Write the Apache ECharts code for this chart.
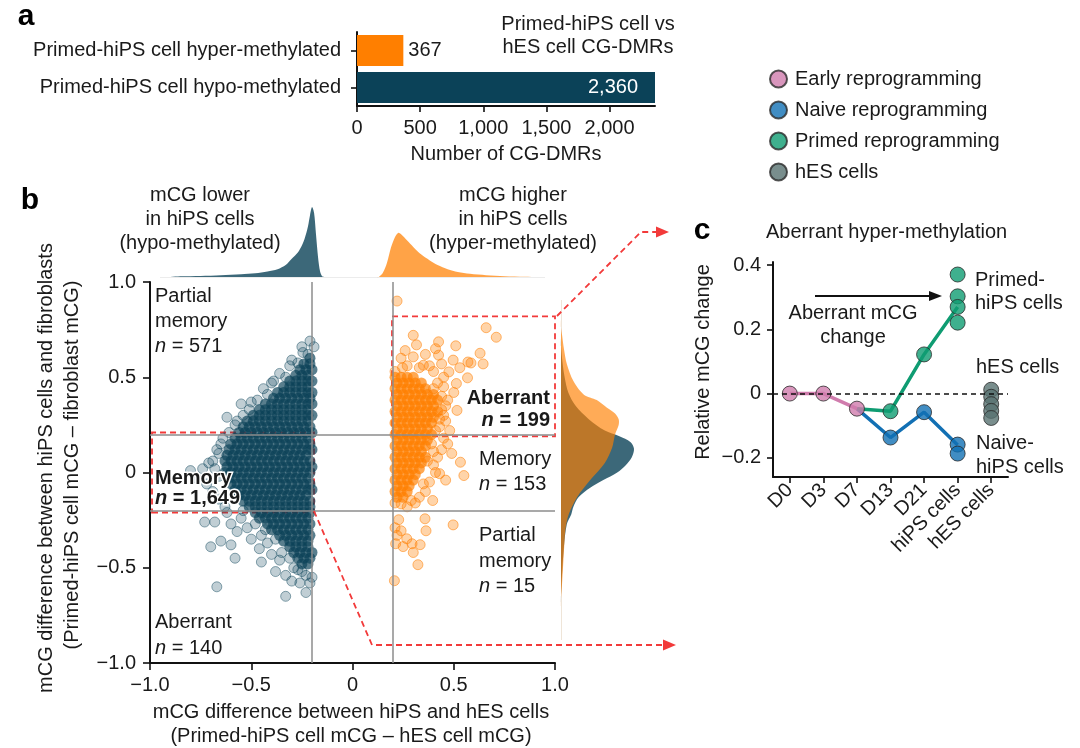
<!DOCTYPE html>
<html><head><meta charset="utf-8">
<script src="https://cdn.jsdelivr.net/npm/echarts@6/dist/echarts.min.js"></script>
<style>html,body{margin:0;padding:0;background:#fff}#c{width:1080px;height:748px}</style>
</head><body><div id="c"></div>
<script>
// ---------- Panel a ----------
const dmrCats = ['Primed-hiPS cell hyper-methylated', 'Primed-hiPS cell hypo-methylated'];
const dmrCounts = [367, 2360];
const dmrTicks = [0, 500, 1000, 1500, 2000];

// ---------- Panel b : scatter (x = hiPS - hES, y = hiPS - fibroblast) ----------
const scatterTicks = [-1, -0.5, 0, 0.5, 1];
// dense core of hypo-methylated DMRs, rows [y, [x...]]
const hypoCoreRows = [
 [0.60, [-0.21]],
 [0.57, [-0.24,-0.21]],
 [0.54, [-0.26,-0.23,-0.20]],
 [0.51, [-0.28,-0.25,-0.22]],
 [0.48, [-0.31,-0.28,-0.25,-0.22,-0.20]],
 [0.45, [-0.34,-0.31,-0.28,-0.25,-0.22]],
 [0.42, [-0.37,-0.34,-0.31,-0.28,-0.25,-0.22,-0.20]],
 [0.39, [-0.39,-0.36,-0.33,-0.30,-0.27,-0.24,-0.21]],
 [0.36, [-0.43,-0.40,-0.37,-0.34,-0.31,-0.28,-0.25,-0.22,-0.20]],
 [0.33, [-0.46,-0.43,-0.40,-0.37,-0.34,-0.31,-0.28,-0.25,-0.22]],
 [0.30, [-0.49,-0.46,-0.43,-0.40,-0.37,-0.34,-0.31,-0.28,-0.25,-0.22,-0.20]],
 [0.27, [-0.52,-0.49,-0.46,-0.43,-0.40,-0.37,-0.34,-0.31,-0.28,-0.25,-0.22]],
 [0.24, [-0.54,-0.51,-0.48,-0.45,-0.42,-0.39,-0.36,-0.33,-0.30,-0.27,-0.24,-0.21]],
 [0.21, [-0.56,-0.53,-0.50,-0.47,-0.44,-0.41,-0.38,-0.35,-0.32,-0.29,-0.26,-0.23,-0.20]],
 [0.18, [-0.58,-0.55,-0.52,-0.49,-0.46,-0.43,-0.40,-0.37,-0.34,-0.31,-0.28,-0.25,-0.22]],
 [0.15, [-0.60,-0.57,-0.54,-0.51,-0.48,-0.45,-0.42,-0.39,-0.36,-0.33,-0.30,-0.27,-0.24,-0.21]],
 [0.12, [-0.61,-0.58,-0.55,-0.52,-0.49,-0.46,-0.43,-0.40,-0.37,-0.34,-0.31,-0.28,-0.25,-0.22,-0.20]],
 [0.09, [-0.62,-0.59,-0.56,-0.53,-0.50,-0.47,-0.44,-0.41,-0.38,-0.35,-0.32,-0.29,-0.26,-0.23]],
 [0.06, [-0.63,-0.60,-0.57,-0.54,-0.51,-0.48,-0.45,-0.42,-0.39,-0.36,-0.33,-0.30,-0.27,-0.24,-0.21]],
 [0.03, [-0.62,-0.59,-0.56,-0.53,-0.50,-0.47,-0.44,-0.41,-0.38,-0.35,-0.32,-0.29,-0.26,-0.23,-0.20]],
 [0.00, [-0.63,-0.60,-0.57,-0.54,-0.51,-0.48,-0.45,-0.42,-0.39,-0.36,-0.33,-0.30,-0.27,-0.24,-0.21]],
 [-0.03, [-0.61,-0.58,-0.55,-0.52,-0.49,-0.46,-0.43,-0.40,-0.37,-0.34,-0.31,-0.28,-0.25,-0.22]],
 [-0.06, [-0.60,-0.57,-0.54,-0.51,-0.48,-0.45,-0.42,-0.39,-0.36,-0.33,-0.30,-0.27,-0.24,-0.21]],
 [-0.09, [-0.58,-0.55,-0.52,-0.49,-0.46,-0.43,-0.40,-0.37,-0.34,-0.31,-0.28,-0.25,-0.22,-0.20]],
 [-0.12, [-0.56,-0.53,-0.50,-0.47,-0.44,-0.41,-0.38,-0.35,-0.32,-0.29,-0.26,-0.23]],
 [-0.15, [-0.54,-0.51,-0.48,-0.45,-0.42,-0.39,-0.36,-0.33,-0.30,-0.27,-0.24,-0.21]],
 [-0.18, [-0.51,-0.48,-0.45,-0.42,-0.39,-0.36,-0.33,-0.30,-0.27,-0.24,-0.21]],
 [-0.21, [-0.48,-0.45,-0.42,-0.39,-0.36,-0.33,-0.30,-0.27,-0.24,-0.21]],
 [-0.24, [-0.46,-0.43,-0.40,-0.37,-0.34,-0.31,-0.28,-0.25,-0.22]],
 [-0.27, [-0.42,-0.39,-0.36,-0.33,-0.30,-0.27,-0.24,-0.21]],
 [-0.30, [-0.40,-0.37,-0.34,-0.31,-0.28,-0.25,-0.22]],
 [-0.33, [-0.36,-0.33,-0.30,-0.27,-0.24,-0.21]],
 [-0.36, [-0.34,-0.31,-0.28,-0.25,-0.22]],
 [-0.39, [-0.31,-0.28,-0.25,-0.22]],
 [-0.42, [-0.29,-0.26,-0.23,-0.20]],
 [-0.45, [-0.27,-0.24,-0.21]],
 [-0.48, [-0.25,-0.22]]
];
const hypoSparse = [
 [-0.21,0.69],[-0.19,0.66],[-0.245,0.63],[-0.22,0.62],[-0.30,0.59],[-0.27,0.575],[-0.36,0.52],[-0.33,0.50],
 [-0.40,0.47],[-0.44,0.44],[-0.42,0.41],[-0.47,0.38],[-0.55,0.36],[-0.51,0.33],[-0.54,0.30],[-0.62,0.29],
 [-0.58,0.25],[-0.61,0.21],[-0.65,0.15],[-0.66,0.10],[-0.69,0.06],[-0.71,0.05],[-0.67,0.12],[-0.74,0.02],
 [-0.80,0.01],[-0.77,-0.03],[-0.72,-0.06],[-0.69,-0.10],[-0.66,-0.14],[-0.63,-0.18],[-0.73,-0.26],[-0.68,-0.26],
 [-0.57,-0.31],[-0.65,-0.36],[-0.60,-0.38],[-0.70,-0.39],[-0.58,-0.45],[-0.67,-0.60],[-0.45,-0.47],[-0.38,-0.52],
 [-0.33,-0.54],[-0.33,-0.65],[-0.23,-0.63],[-0.23,-0.54],[-0.29,-0.50],[-0.36,-0.46],[-0.62,-0.21],[-0.60,-0.27],
 [-0.55,-0.24],[-0.52,-0.29],[-0.50,-0.35],[-0.46,-0.40],[-0.42,-0.37],[-0.40,-0.43],[-0.35,-0.42],[-0.31,-0.45],
 [-0.27,-0.51],[-0.25,-0.52],[-0.20,-0.55],[-0.21,-0.58],[-0.26,-0.58],[-0.30,-0.57],[-0.66,-0.02],[-0.68,0.02],
 [-0.64,0.18],[-0.50,0.37],[-0.39,0.48],[-0.31,0.56],[-0.25,0.66],[-0.57,0.27],[-0.45,-0.33],[-0.48,-0.27],
 [-0.54,-0.20],[-0.38,-0.35],[-0.43,-0.30]
];
const hyperCoreRows = [
 [0.50, [0.21,0.24,0.27,0.30]],
 [0.47, [0.22,0.25,0.28,0.31,0.34]],
 [0.44, [0.21,0.24,0.27,0.30,0.33,0.36]],
 [0.41, [0.22,0.25,0.28,0.31,0.34,0.37,0.40]],
 [0.38, [0.21,0.24,0.27,0.30,0.33,0.36,0.39,0.42]],
 [0.35, [0.22,0.25,0.28,0.31,0.34,0.37,0.40]],
 [0.32, [0.21,0.24,0.27,0.30,0.33,0.36,0.39,0.42]],
 [0.29, [0.22,0.25,0.28,0.31,0.34,0.37,0.40]],
 [0.26, [0.21,0.24,0.27,0.30,0.33,0.36,0.39]],
 [0.23, [0.22,0.25,0.28,0.31,0.34,0.37]],
 [0.20, [0.21,0.24,0.27,0.30,0.33,0.36,0.39]],
 [0.17, [0.22,0.25,0.28,0.31,0.34,0.37]],
 [0.14, [0.21,0.24,0.27,0.30,0.33,0.36]],
 [0.11, [0.22,0.25,0.28,0.31,0.34]],
 [0.08, [0.21,0.24,0.27,0.30,0.33,0.36]],
 [0.05, [0.22,0.25,0.28,0.31,0.34]],
 [0.02, [0.21,0.24,0.27,0.30,0.33]],
 [-0.01, [0.22,0.25,0.28,0.31]],
 [-0.04, [0.21,0.24,0.27,0.30]],
 [-0.07, [0.22,0.25,0.28]],
 [-0.10, [0.21,0.24,0.27]],
 [-0.13, [0.22,0.25]]
];
const hyperSparse = [
 [0.22,0.90],[0.30,0.72],[0.316,0.67],[0.425,0.686],[0.41,0.65],[0.66,0.76],[0.71,0.71],[0.51,0.665],
 [0.36,0.62],[0.425,0.616],[0.30,0.607],[0.63,0.626],[0.57,0.58],[0.585,0.575],[0.645,0.57],[0.497,0.59],
 [0.44,0.57],[0.35,0.563],[0.476,0.528],[0.568,0.497],[0.513,0.467],[0.50,0.42],[0.516,0.326],[0.21,0.53],
 [0.247,0.55],[0.45,0.45],[0.47,0.38],[0.44,0.33],[0.46,0.27],[0.43,0.24],[0.48,0.22],[0.40,0.53],
 [0.38,0.56],[0.33,0.55],[0.27,0.56],[0.24,0.60],[0.26,0.64],[0.45,0.50],[0.53,0.55],[0.42,0.47],
 [0.40,0.44],[0.44,0.40],[0.45,0.30],[0.43,0.28],[0.46,0.35],[0.41,0.22],
 [0.533,0.054],[0.55,-0.016],[0.46,-0.04],[0.43,-0.006],[0.396,-0.147],[0.29,-0.147],[0.27,-0.18],[0.24,-0.165],
 [0.21,-0.16],[0.44,0.12],[0.42,0.08],[0.47,0.15],[0.40,0.04],[0.38,-0.05],[0.45,0.18],[0.36,-0.10],
 [0.33,-0.13],[0.49,0.10],[0.39,0.15],[0.41,0.0],[0.35,-0.06],[0.37,0.06],[0.40,0.11],[0.31,-0.16],
 [0.228,-0.248],[0.358,-0.243],[0.497,-0.275],[0.21,-0.29],[0.363,-0.306],[0.24,-0.306],[0.268,-0.348],
 [0.294,-0.374],[0.334,-0.379],[0.213,-0.374],[0.25,-0.389],[0.30,-0.42],[0.323,-0.484],[0.207,-0.568],[0.22,-0.33]
];
// marginal densities (top: [x, relative height]; right: [relative width, y])
const hypoTopDensity = [[-0.95,0],[-0.9,0],[-0.85,0.01],[-0.75,0.015],[-0.65,0.025],[-0.55,0.04],[-0.48,0.055],[-0.42,0.08],[-0.37,0.11],[-0.33,0.17],[-0.30,0.26],[-0.27,0.35],[-0.25,0.45],[-0.235,0.56],[-0.22,0.72],[-0.21,0.88],[-0.20,1.0],[-0.19,0.92],[-0.18,0.6],[-0.17,0.28],[-0.16,0.08],[-0.15,0.01],[-0.14,0],[-0.13,0]];
const hyperTopDensity = [[0.12,0],[0.13,0],[0.15,0.06],[0.17,0.2],[0.19,0.42],[0.21,0.57],[0.225,0.63],[0.24,0.61],[0.27,0.52],[0.30,0.43],[0.34,0.32],[0.38,0.24],[0.42,0.17],[0.47,0.11],[0.52,0.07],[0.58,0.045],[0.66,0.025],[0.75,0.012],[0.85,0.005],[0.92,0],[0.93,0]];
const hypoRightDensity = [[0,-0.68],[0,-0.64],[0.01,-0.56],[0.04,-0.39],[0.08,-0.27],[0.14,-0.22],[0.17,-0.18],[0.24,-0.13],[0.40,-0.08],[0.58,-0.04],[0.77,0.0],[0.89,0.04],[0.97,0.08],[1.0,0.125],[0.95,0.16],[0.8,0.19],[0.6,0.22],[0.38,0.28],[0.2,0.35],[0.1,0.42],[0.05,0.5],[0.02,0.58],[0,0.66],[0,0.7]];
const hyperRightDensity = [[0,-0.70],[0,-0.66],[0.015,-0.58],[0.03,-0.48],[0.045,-0.38],[0.06,-0.30],[0.105,-0.22],[0.22,-0.13],[0.40,-0.04],[0.60,0.05],[0.70,0.13],[0.74,0.20],[0.79,0.25],[0.79,0.28],[0.74,0.31],[0.63,0.34],[0.49,0.38],[0.31,0.41],[0.17,0.48],[0.08,0.57],[0.04,0.65],[0.015,0.72],[0,0.76],[0,0.8]];

// ---------- Panel c ----------
const cCats = ['D0','D3','D7','D13','D21','hiPS cells','hES cells'];
const cTicks = [-0.2, 0, 0.2, 0.4];
const earlyLine  = [0, 0, -0.047, null, null, null, null];
const naiveLine  = [null, null, -0.047, -0.137, -0.058, -0.16, null];
const primedLine = [null, null, -0.047, -0.055, 0.122, 0.27, null];
const earlyPoints  = [['D0',0],['D3',0],['D7',-0.047]];
const naivePoints  = [['D13',-0.137],['D21',-0.058],['hiPS cells',-0.159],['hiPS cells',-0.187]];
const primedPoints = [['D13',-0.055],['D21',0.122],['hiPS cells',0.371],['hiPS cells',0.303],['hiPS cells',0.27],['hiPS cells',0.221]];
const hesPoints    = [['hES cells',0.012],['hES cells',-0.01],['hES cells',-0.033],['hES cells',-0.054],['hES cells',-0.076]];

// ---------- build ----------
const FONT = "'Liberation Sans', Arial, Helvetica, sans-serif";
const TXT = '#1a1a1a';
const DARK = '#0b4258', ORANGE = '#ff7f00';
const PINK = '#d07cad', BLUE = '#1270b4', GREEN = '#0f9c72', HES = '#587270';
const RED = '#f23a3a';

const hypoCore = hypoCoreRows.flatMap(r => r[1].map(x => [x, r[0]]));
const hyperCore = hyperCoreRows.flatMap(r => r[1].map(x => [x, r[0]]));
const fmt1 = v => Math.abs(v) < 1e-9 ? '0' : (v < 0 ? '\u2212' : '') + Math.abs(v).toFixed(1);

const axisBlack = {show:true, onZero:false, lineStyle:{color:'#111', width:2}};
const tickBlack = (len) => ({show:true, length:len, lineStyle:{color:'#111', width:1.6}});
const lab = (o) => Object.assign({fontSize:20, color:TXT, fontFamily:FONT}, o);

function density(points, gi, fill, z) {
  return {type:'custom', xAxisIndex:gi, yAxisIndex:gi, data:points, clip:false, silent:true, z:z,
    renderItem:(params, api) => params.dataIndex !== 0 ? null : ({
      type:'polygon', shape:{points: points.map(p => api.coord(p)), smooth:0.3},
      style:{fill:fill}
    })};
}
function T(x, y, text, o) {
  return {type:'text', x:x, y:y, z:100, silent:true,
    style:Object.assign({text:text, fontSize:20, fontFamily:FONT, fill:TXT, align:'left', verticalAlign:'middle'}, o || {})};
}
const ital = {i:{fontStyle:'italic', fontSize:20, fontFamily:FONT, fill:TXT}};
const italB = {i:{fontStyle:'italic', fontWeight:'bold', fontSize:20, fontFamily:FONT, fill:TXT, stroke:'#fff', lineWidth:3}};
function R(x, y, text) {
  const t = T(x, y, text, {align:'center'});
  t.rotation = Math.PI / 2;
  return t;
}

const ptStyle = (rgb, a, b) => ({color:'rgba(' + rgb + ',' + a + ')', borderColor:'rgba(' + rgb + ',' + b + ')', borderWidth:1});

const option = {
  animation:false,
  textStyle:{fontFamily:FONT},
  grid:[
    {left:357, top:32, width:298, height:74, outerBoundsMode:'none'},
    {left:150, top:282, width:405, height:381, outerBoundsMode:'none'},
    {left:150, top:207, width:405, height:70, outerBoundsMode:'none'},
    {left:561, top:282, width:73, height:381, outerBoundsMode:'none'},
    {left:773, top:262, width:235, height:215, outerBoundsMode:'none'}
  ],
  xAxis:[
    {gridIndex:0, type:'value', min:0, max:2360, axisLine:axisBlack,
     axisTick:Object.assign(tickBlack(6), {customValues:dmrTicks}),
     axisLabel:lab({customValues:dmrTicks, margin:12, formatter:v => Number(v).toLocaleString('en-US')}),
     splitLine:{show:false}, name:'Number of CG-DMRs', nameLocation:'middle', nameGap:38,
     nameTextStyle:{fontSize:20, color:TXT, fontFamily:FONT}},
    {gridIndex:1, type:'value', min:-1, max:1, interval:0.5, axisLine:axisBlack, axisTick:tickBlack(7),
     axisLabel:lab({margin:12, formatter:fmt1}), splitLine:{show:false}},
    {gridIndex:2, type:'value', min:-1, max:1, show:false},
    {gridIndex:3, type:'value', min:0, max:1, show:false},
    {gridIndex:4, type:'category', data:cCats, boundaryGap:true, axisLine:axisBlack,
     axisTick:Object.assign(tickBlack(6), {alignWithLabel:true}),
     axisLabel:lab({rotate:45, margin:10, interval:0})}
  ],
  yAxis:[
    {gridIndex:0, type:'category', data:dmrCats, inverse:true, axisLine:axisBlack,
     axisTick:Object.assign(tickBlack(6), {alignWithLabel:true}), axisLabel:lab({margin:16})},
    {gridIndex:1, type:'value', min:-1, max:1, interval:0.5, axisLine:axisBlack, axisTick:tickBlack(7),
     axisLabel:lab({margin:14, formatter:fmt1}), splitLine:{show:false}},
    {gridIndex:2, type:'value', min:0, max:1, show:false},
    {gridIndex:3, type:'value', min:-1, max:1, show:false},
    {gridIndex:4, type:'value', min:-0.26, max:0.41, axisLine:axisBlack,
     axisTick:Object.assign(tickBlack(6), {customValues:cTicks}),
     axisLabel:lab({customValues:cTicks, margin:12, formatter:fmt1}), splitLine:{show:false}}
  ],
  legend:{
    data:['Early reprogramming','Naive reprogramming','Primed reprogramming','hES cells'],
    orient:'vertical', left:764, top:64, itemWidth:17, itemHeight:17, itemGap:11, icon:'circle',
    selectedMode:false, textStyle:{fontSize:20, color:TXT, fontFamily:FONT, padding:[0,0,0,3]}
  },
  series:[
    // panel a
    {type:'bar', xAxisIndex:0, yAxisIndex:0, barWidth:31, silent:true,
     data:[
       {value:dmrCounts[0], itemStyle:{color:ORANGE}, label:{show:true, position:'right', distance:5, color:TXT, fontSize:20, fontFamily:FONT}},
       {value:dmrCounts[1], itemStyle:{color:DARK}, label:{show:true, position:'insideRight', distance:17, color:'#fff', fontSize:20, fontFamily:FONT}}
     ],
     label:{formatter:p => Number(p.value).toLocaleString('en-US')}},
    // panel b scatter
    {type:'scatter', xAxisIndex:1, yAxisIndex:1, data:hypoSparse, symbolSize:10, silent:true, z:2, itemStyle:ptStyle('11,66,88',0.32,0.58)},
    {type:'scatter', xAxisIndex:1, yAxisIndex:1, data:hypoCore, symbolSize:11, silent:true, z:2, itemStyle:{color:'rgba(11,66,88,0.85)', borderWidth:0}},
    {type:'scatter', xAxisIndex:1, yAxisIndex:1, data:hyperSparse, symbolSize:10, silent:true, z:2, itemStyle:ptStyle('255,127,0',0.42,0.68)},
    {type:'scatter', xAxisIndex:1, yAxisIndex:1, data:hyperCore, symbolSize:11, silent:true, z:2, itemStyle:{color:'rgba(255,127,0,0.85)', borderWidth:0}},
    {type:'scatter', xAxisIndex:1, yAxisIndex:1, data:[], z:5, silent:true,
     markLine:{silent:true, symbol:['none','none'], label:{show:false}, animation:false,
       lineStyle:{color:'#8c8c8c', width:1.5, type:'solid'},
       data:[{xAxis:-0.2},{xAxis:0.2},{yAxis:0.2},{yAxis:-0.2}]},
     markArea:{silent:true, label:{show:false},
       itemStyle:{color:'rgba(0,0,0,0)', borderColor:RED, borderWidth:1.8, borderType:[6,4]},
       data:[[{coord:[-0.99,-0.21]},{coord:[-0.19,0.21]}],[{coord:[0.195,0.19]},{coord:[1,0.82]}]]}},
    // densities
    density(hypoTopDensity, 2, 'rgba(11,66,88,0.8)', 2),
    density(hyperTopDensity, 2, 'rgba(255,127,0,0.72)', 3),
    density(hypoRightDensity, 3, 'rgba(11,66,88,0.8)', 2),
    density(hyperRightDensity, 3, 'rgba(255,127,0,0.66)', 3),
    // panel c lines
    {type:'line', name:'earlyLine', xAxisIndex:4, yAxisIndex:4, data:earlyLine, symbol:'none', silent:true, z:2,
     lineStyle:{color:PINK, width:3.5},
     markLine:{silent:true, symbol:['none','none'], label:{show:false}, animation:false,
       lineStyle:{color:'#111', width:1.5, type:[5,4]}, data:[{yAxis:0}]}},
    {type:'line', name:'naiveLine', xAxisIndex:4, yAxisIndex:4, data:naiveLine, symbol:'none', silent:true, z:1, lineStyle:{color:BLUE, width:3.5}},
    {type:'line', name:'primedLine', xAxisIndex:4, yAxisIndex:4, data:primedLine, symbol:'none', silent:true, z:1, lineStyle:{color:GREEN, width:3.5}},
    {type:'scatter', name:'Early reprogramming', xAxisIndex:4, yAxisIndex:4, data:earlyPoints, symbolSize:15, silent:true, z:4, itemStyle:{color:PINK, borderColor:'#2a2a2a', borderWidth:1}},
    {type:'scatter', name:'Naive reprogramming', xAxisIndex:4, yAxisIndex:4, data:naivePoints, symbolSize:15, silent:true, z:4, itemStyle:{color:BLUE, borderColor:'#2a2a2a', borderWidth:1}},
    {type:'scatter', name:'Primed reprogramming', xAxisIndex:4, yAxisIndex:4, data:primedPoints, symbolSize:15, silent:true, z:4, itemStyle:{color:GREEN, borderColor:'#2a2a2a', borderWidth:1}},
    {type:'scatter', name:'hES cells', xAxisIndex:4, yAxisIndex:4, data:hesPoints, symbolSize:15, silent:true, z:4, itemStyle:{color:HES, borderColor:'#2a2a2a', borderWidth:1}}
  ],
  graphic:[
    // panel letters
    T(26, 17, 'a', {fontSize:30, fontWeight:'bold', align:'center', fill:'#000'}),
    T(30, 201, 'b', {fontSize:30, fontWeight:'bold', align:'center', fill:'#000'}),
    T(702, 231, 'c', {fontSize:30, fontWeight:'bold', align:'center', fill:'#000'}),
    // panel a title
    T(588, 24, 'Primed-hiPS cell vs', {align:'center'}),
    T(588, 47, 'hES cell CG-DMRs', {align:'center'}),
    // density labels
    T(200, 195, 'mCG lower', {align:'center'}),
    T(200, 219, 'in hiPS cells', {align:'center'}),
    T(200, 243, '(hypo-methylated)', {align:'center'}),
    T(513, 195, 'mCG higher', {align:'center'}),
    T(513, 219, 'in hiPS cells', {align:'center'}),
    T(513, 243, '(hyper-methylated)', {align:'center'}),
    // baselines of marginal densities
    {type:'line', silent:true, z:1, shape:{x1:160, y1:277.5, x2:545, y2:277.5}, style:{stroke:'#ececec', lineWidth:1}},
    {type:'line', silent:true, z:1, shape:{x1:561.5, y1:300, x2:561.5, y2:640}, style:{stroke:'#efe5d8', lineWidth:1}},
    // scatter annotations
    T(155, 296, 'Partial'), T(155, 321, 'memory'), T(155, 346, '{i|n} = 571', {rich:ital}),
    T(155, 478, 'Memory', {fontWeight:'bold', stroke:'#fff', lineWidth:3}),
    T(155, 498, '{i|n} = 1,649', {fontWeight:'bold', stroke:'#fff', lineWidth:3, rich:italB}),
    T(155, 622, 'Aberrant'), T(155, 648, '{i|n} = 140', {rich:ital}),
    T(550, 398, 'Aberrant', {fontWeight:'bold', align:'right'}),
    T(550, 420, '{i|n} = 199', {fontWeight:'bold', align:'right', rich:{i:{fontStyle:'italic', fontWeight:'bold', fontSize:20, fontFamily:FONT, fill:TXT}}}),
    T(479, 459, 'Memory'), T(479, 484, '{i|n} = 153', {rich:ital}),
    T(479, 535, 'Partial'), T(479, 561, 'memory'), T(479, 586, '{i|n} = 15', {rich:ital}),
    // scatter axis titles
    T(351, 712, 'mCG difference between hiPS and hES cells', {align:'center'}),
    T(351, 736, '(Primed-hiPS cell mCG \u2013 hES cell mCG)', {align:'center'}),
    R(46, 468, 'mCG difference between hiPS cells and fibroblasts'),
    R(72, 465, '(Primed-hiPS cell mCG \u2013 fibroblast mCG)'),
    // red connectors
    {type:'polyline', silent:true, z:90, shape:{points:[[557,316],[641,232],[660,232]]}, style:{stroke:RED, lineWidth:1.8, lineDash:[6,4], fill:null}},
    {type:'polygon', silent:true, z:90, shape:{points:[[669,232],[656,226.5],[656,237.5]]}, style:{fill:RED}},
    {type:'polyline', silent:true, z:90, shape:{points:[[314,511],[372,645],[666,645]]}, style:{stroke:RED, lineWidth:1.8, lineDash:[6,4], fill:null}},
    {type:'polygon', silent:true, z:90, shape:{points:[[676,645],[663,639.5],[663,650.5]]}, style:{fill:RED}},
    // panel c annotations
    T(766, 232, 'Aberrant hyper-methylation'),
    R(703, 362, 'Relative mCG change'),
    T(853, 313, 'Aberrant mCG', {align:'center'}),
    T(853, 337, 'change', {align:'center'}),
    {type:'line', silent:true, z:90, shape:{x1:815, y1:296, x2:932, y2:296}, style:{stroke:'#111', lineWidth:2}},
    {type:'polygon', silent:true, z:90, shape:{points:[[942,296],[929,291],[929,301]]}, style:{fill:'#111'}},
    T(975, 280, 'Primed-'), T(975, 303, 'hiPS cells'),
    T(976, 367, 'hES cells'),
    T(976, 443, 'Naive-'), T(976, 467, 'hiPS cells')
  ]
};
const chart = echarts.init(document.getElementById('c'), null, {renderer:'canvas'});
chart.setOption(option);
</script></body></html>
